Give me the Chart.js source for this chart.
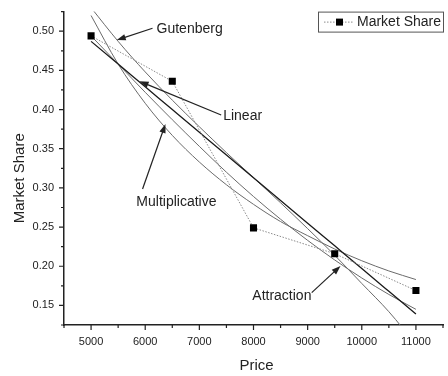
<!DOCTYPE html>
<html>
<head>
<meta charset="utf-8">
<script src="https://cdn.jsdelivr.net/npm/chart.js@4.4.1/dist/chart.umd.min.js"></script>
<style>
  html, body { margin: 0; padding: 0; background: #fff; }
  #wrap { width: 448px; height: 376px; }
</style>
</head>
<body>
<div id="wrap"><canvas id="chart"></canvas></div>
<script>
// observed market share
const prices = [5000, 6500, 8000, 9500, 11000];
const marketShare = [0.494, 0.436, 0.249, 0.216, 0.169];

// fitted curves
const curvePrices = [5000, 5500, 6000, 6500, 7000, 7500, 8000, 8500, 9000, 9500, 10000, 10500, 11000];
const linearFit = [0.487, 0.458, 0.429, 0.400, 0.371, 0.342, 0.313, 0.284, 0.255, 0.226, 0.197, 0.168, 0.139];
const multiplicativeFit = [0.520, 0.458, 0.408, 0.367, 0.333, 0.304, 0.279, 0.257, 0.239, 0.222, 0.207, 0.194, 0.183];
const attractionFit = [0.494, 0.458, 0.422, 0.387, 0.353, 0.320, 0.289, 0.260, 0.233, 0.208, 0.185, 0.164, 0.145];
const gutenbergFit = [0.530, 0.487, 0.448, 0.412, 0.378, 0.345, 0.313, 0.281, 0.248, 0.214, 0.178, 0.142, 0.100];

// axes
const xTicks = [5000, 6000, 7000, 8000, 9000, 10000, 11000];
const xMinorTicks = [4500, 5500, 6500, 7500, 8500, 9500, 10500, 11500];
const yTicks = [0.15, 0.20, 0.25, 0.30, 0.35, 0.40, 0.45, 0.50];
const yMinorTicks = [0.125, 0.175, 0.225, 0.275, 0.325, 0.375, 0.425, 0.475, 0.525];

// curve labels: text, text pos, text align, arrow tail, arrow head (data units)
const noteText = ['Gutenberg', 'Linear', 'Multiplicative', 'Attraction'];
const noteAt = [[6209, 0.502], [7440, 0.392], [6576, 0.2815], [8524, 0.1618]];
const noteAlign = ['left', 'left', 'center', 'center'];
const noteTail = [[6135, 0.5038], [7403, 0.393], [5951, 0.2985], [9075, 0.1663]];
const noteHead = [[5474, 0.4887], [5896, 0.436], [6374, 0.3816], [9607, 0.2003]];

const FONT = '"Liberation Sans", Arial, sans-serif';
const INK = '#222';

function pts(xs, ys) {
  return xs.map((v, i) => ({ x: v, y: ys[i] }));
}

function curve(label, ys, color, width) {
  return {
    label: label,
    data: pts(curvePrices, ys),
    showLine: true,
    borderColor: color,
    borderWidth: width,
    pointRadius: 0,
    cubicInterpolationMode: 'monotone',
    clip: 0
  };
}

function arrow(ctx, x1, y1, x2, y2) {
  const ang = Math.atan2(y2 - y1, x2 - x1);
  const len = 9, half = 3.2;
  ctx.beginPath();
  ctx.moveTo(x1, y1);
  ctx.lineTo(x2 - Math.cos(ang) * len * 0.6, y2 - Math.sin(ang) * len * 0.6);
  ctx.stroke();
  ctx.beginPath();
  ctx.moveTo(x2, y2);
  ctx.lineTo(x2 - Math.cos(ang) * len + Math.sin(ang) * half, y2 - Math.sin(ang) * len - Math.cos(ang) * half);
  ctx.lineTo(x2 - Math.cos(ang) * len - Math.sin(ang) * half, y2 - Math.sin(ang) * len + Math.cos(ang) * half);
  ctx.closePath();
  ctx.fill();
}

// ticks, titles, notes and legend drawn on top
const extras = {
  id: 'extras',
  afterDraw(chart) {
    const { ctx, chartArea: a, scales: { x, y } } = chart;
    ctx.save();
    ctx.strokeStyle = INK;
    ctx.fillStyle = INK;
    ctx.lineWidth = 1.2;

    // tick marks (outward)
    ctx.beginPath();
    xTicks.forEach(v => { const p = x.getPixelForValue(v); ctx.moveTo(p, a.bottom); ctx.lineTo(p, a.bottom + 5); });
    xMinorTicks.forEach(v => { const p = x.getPixelForValue(v); ctx.moveTo(p, a.bottom); ctx.lineTo(p, a.bottom + 3); });
    yTicks.forEach(v => { const p = y.getPixelForValue(v); ctx.moveTo(a.left, p); ctx.lineTo(a.left - 5, p); });
    yMinorTicks.forEach(v => { const p = y.getPixelForValue(v); ctx.moveTo(a.left, p); ctx.lineTo(a.left - 3, p); });
    ctx.stroke();

    // axis titles
    ctx.font = '15px ' + FONT;
    ctx.textAlign = 'center';
    ctx.textBaseline = 'middle';
    ctx.fillText('Price', (a.left + a.right) / 2 + 3, a.bottom + 41);
    ctx.save();
    ctx.translate(20, (a.top + a.bottom) / 2 + 10);
    ctx.rotate(-Math.PI / 2);
    ctx.fillText('Market Share', 0, 0);
    ctx.restore();

    // curve labels with arrows
    ctx.font = '14px ' + FONT;
    ctx.lineWidth = 1.2;
    noteText.forEach((t, i) => {
      ctx.textAlign = noteAlign[i];
      ctx.fillText(t, x.getPixelForValue(noteAt[i][0]), y.getPixelForValue(noteAt[i][1]));
      arrow(ctx,
        x.getPixelForValue(noteTail[i][0]), y.getPixelForValue(noteTail[i][1]),
        x.getPixelForValue(noteHead[i][0]), y.getPixelForValue(noteHead[i][1]));
    });

    // legend box
    const bx = a.right - 125, by = a.top, bw = 126, bh = 21;
    ctx.fillStyle = '#fff';
    ctx.fillRect(bx, by, bw, bh);
    ctx.strokeStyle = '#555';
    ctx.lineWidth = 1;
    ctx.strokeRect(bx + 0.5, by + 0.5, bw - 1, bh - 1);
    const my = by + bh / 2;
    ctx.strokeStyle = '#8a8a8a';
    ctx.setLineDash([1.5, 1.5]);
    ctx.beginPath();
    ctx.moveTo(bx + 6, my);
    ctx.lineTo(bx + 36, my);
    ctx.stroke();
    ctx.setLineDash([]);
    ctx.fillStyle = '#000';
    ctx.fillRect(bx + 18, my - 3.5, 7, 7);
    ctx.fillStyle = INK;
    ctx.textAlign = 'left';
    ctx.font = '14px ' + FONT;
    ctx.fillText('Market Share', bx + 39, my);
    ctx.restore();
  }
};

Chart.defaults.font.family = FONT;
Chart.defaults.color = INK;

new Chart(document.getElementById('chart').getContext('2d'), {
  type: 'scatter',
  data: {
    datasets: [
      {
        label: 'Market Share',
        data: pts(prices, marketShare),
        showLine: true,
        borderColor: '#8a8a8a',
        borderWidth: 1,
        borderDash: [1.5, 1.5],
        pointStyle: 'rect',
        pointRadius: 5,
        pointBorderWidth: 0,
        pointBackgroundColor: '#000',
        pointBorderColor: '#000'
      },
      curve('Linear', linearFit, '#1a1a1a', 1.3),
      curve('Multiplicative', multiplicativeFit, '#6a6a6a', 1),
      curve('Attraction', attractionFit, '#6a6a6a', 1),
      curve('Gutenberg', gutenbergFit, '#6a6a6a', 1)
    ]
  },
  options: {
    responsive: true,
    maintainAspectRatio: false,
    animation: false,
    layout: { padding: { top: 8, right: 3, left: 0, bottom: 0 } },
    plugins: {
      legend: { display: false },
      tooltip: { enabled: false }
    },
    scales: {
      x: {
        type: 'linear',
        min: 4500,
        max: 11500,
        afterBuildTicks: s => { s.ticks = xTicks.map(v => ({ value: v })); },
        afterFit: s => { s.height = 51; },
        grid: { display: true, drawOnChartArea: false, drawTicks: true, tickLength: 5, tickColor: 'rgba(0,0,0,0)' },
        border: { display: true, color: INK, width: 1.5 },
        ticks: { font: { size: 11 }, color: INK, padding: 5, maxRotation: 0, callback: v => String(v) }
      },
      y: {
        type: 'linear',
        min: 0.125,
        max: 0.525,
        afterBuildTicks: s => { s.ticks = yTicks.map(v => ({ value: v })); },
        afterFit: s => { s.width = 64; },
        grid: { display: true, drawOnChartArea: false, drawTicks: true, tickLength: 5, tickColor: 'rgba(0,0,0,0)' },
        border: { display: true, color: INK, width: 1.5 },
        ticks: { font: { size: 11 }, color: INK, padding: 5, callback: v => v.toFixed(2) }
      }
    }
  },
  plugins: [extras]
});
</script>
</body>
</html>
